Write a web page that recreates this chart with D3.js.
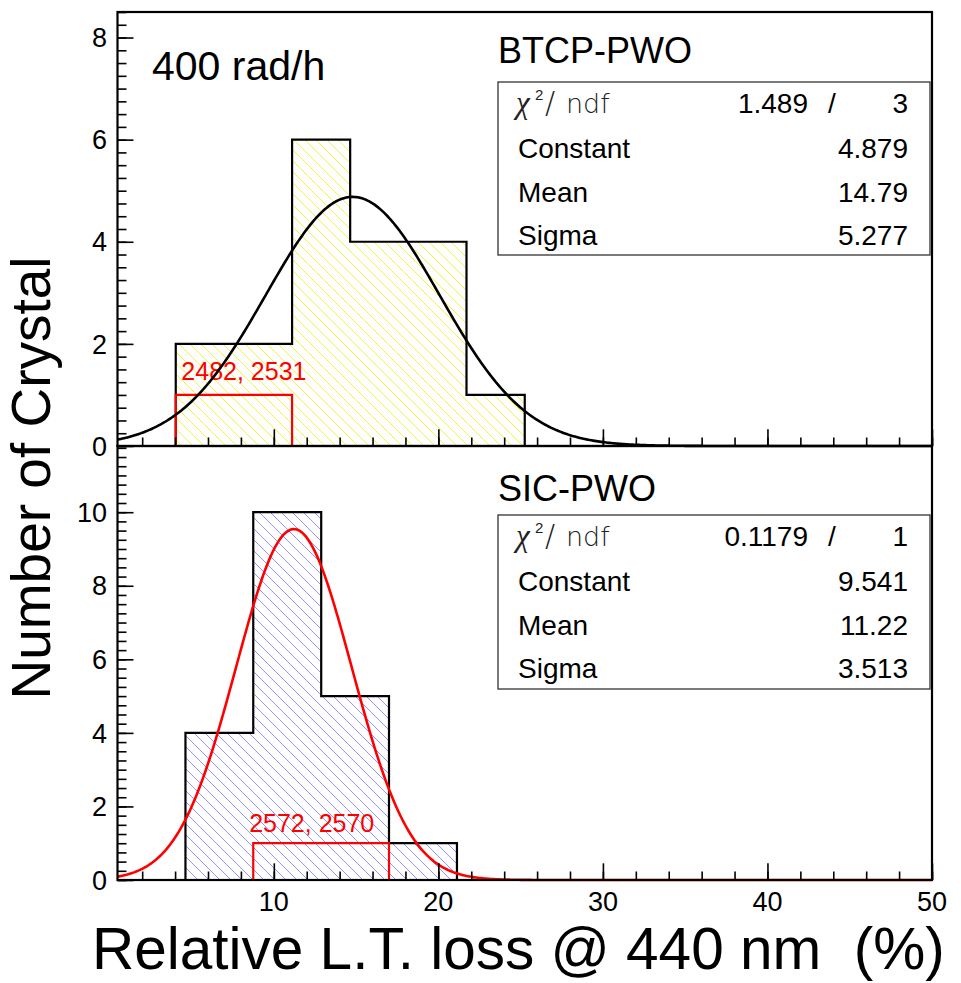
<!DOCTYPE html>
<html>
<head>
<meta charset="utf-8">
<script src="https://cdn.jsdelivr.net/npm/d3@7/dist/d3.min.js"></script>
<style>
  body { margin: 0; background: #fff; }
  svg { display: block; }
  text { font-family: "Liberation Sans", Arial, Helvetica, sans-serif; white-space: pre; }
</style>
</head>
<body>
<svg id="chart" width="961" height="983"></svg>
<script>
// ---------------- data ----------------
const xDomain = [0.5, 50];
const xMajorTicks = [10, 20, 30, 40, 50];

// top panel: BTCP-PWO
const topTitle = "BTCP-PWO";
const topBinEdges = [4.04, 7.57, 11.11, 14.64, 18.18, 21.71, 25.25];
const topCounts = [2, 2, 6, 4, 4, 1];
const topRedEdges = [4.04, 7.57, 11.11];
const topRedCounts = [1, 1];
const topRedLabel = "2482, 2531";
const topFit = [4.879, 14.79, 5.277]; // constant, mean, sigma
const topStats = ["1.489", "3", "4.879", "14.79", "5.277"];
const topYDomain = [0, 8.5];
const topYTicks = [0, 2, 4, 6, 8];

// bottom panel: SIC-PWO
const botTitle = "SIC-PWO";
const botBinEdges = [4.63, 8.75, 12.88, 17.0, 21.13];
const botCounts = [4, 10, 5, 1];
const botRedEdges = [8.75, 12.88, 17.0];
const botRedCounts = [1, 1];
const botRedLabel = "2572, 2570";
const botFit = [9.541, 11.22, 3.513];
const botStats = ["0.1179", "1", "9.541", "11.22", "3.513"];
const botYDomain = [0, 11.8];
const botYTicks = [0, 2, 4, 6, 8, 10];

const doseLabel = "400 rad/h";
const yTitle = "Number of Crystal";
const xTitle = "Relative L.T. loss @ 440 nm  (%)";
const statNames = ["Constant", "Mean", "Sigma"];

// ---------------- layout ----------------
const svg = d3.select("#chart");
const L = 117.5, R = 932;
const topY0 = 446, topY1 = 12;
const botY0 = 880, botY1 = 446;

const x = d3.scaleLinear().domain(xDomain).range([L, R]);
const yTop = d3.scaleLinear().domain(topYDomain).range([topY0, topY1]);
const yBot = d3.scaleLinear().domain(botYDomain).range([botY0, botY1]);

// hatch patterns
const defs = svg.append("defs");
function hatch(id, color, width, opacity) {
  const s = 11;
  const p = defs.append("pattern").attr("id", id)
    .attr("patternUnits", "userSpaceOnUse").attr("width", s).attr("height", s);
  p.append("path").attr("d", `M${-s/2},${s/2} L${s/2},${1.5*s} M0,0 L${s},${s} M${s/2},${-s/2} L${1.5*s},${s/2}`)
    .attr("stroke", color).attr("stroke-width", width).attr("stroke-opacity", opacity).attr("fill", "none");
}
hatch("hatchYellow", "#f2f200", 0.9, 0.85);
hatch("hatchBlue", "#2020ff", 0.8, 0.6);

function histPoints(edges, counts) {
  const pts = [[edges[0], 0]];
  counts.forEach((c, i) => { pts.push([edges[i], c]); pts.push([edges[i + 1], c]); });
  pts.push([edges[edges.length - 1], 0]);
  return pts;
}

function gaussPoints(fit) {
  const [c, m, s] = fit;
  return d3.range(xDomain[0], xDomain[1] + 0.001, 0.1).map(v => [v, c * Math.exp(-0.5 * ((v - m) / s) ** 2)]);
}

function drawPanel(opt) {
  const { y, y0, y1, edges, counts, redEdges, redCounts, fill, fit, fitColor, redLabel, labelPos } = opt;
  const g = svg.append("g");
  const line = d3.line().x(d => x(d[0])).y(d => y(d[1]));
  const hp = histPoints(edges, counts);
  g.append("path").attr("d", line(hp) + "Z").attr("fill", `url(#${fill})`).attr("stroke", "none");
  g.append("path").attr("d", line(hp)).attr("fill", "none").attr("stroke", "#000").attr("stroke-width", 2.2);
  g.append("path").attr("d", line(histPoints(redEdges, redCounts))).attr("fill", "none")
    .attr("stroke", "#ff0000").attr("stroke-width", 2.2);
  g.append("text").attr("x", x(labelPos[0])).attr("y", y(labelPos[1]))
    .attr("fill", "#ff0000").attr("font-size", 25).text(redLabel);
  g.append("path").attr("d", line(gaussPoints(fit))).attr("fill", "none")
    .attr("stroke", fitColor).attr("stroke-width", 2.6);

  // y ticks
  const yMinor = d3.range(y.domain()[0], y.domain()[1] + 1e-9, 0.25);
  g.append("g").attr("transform", `translate(${L},0)`)
    .call(d3.axisRight(y).tickValues(yMinor).tickSize(9).tickFormat(""))
    .call(a => a.select(".domain").remove())
    .selectAll("line").attr("stroke", "#000").attr("stroke-width", 1.6);
  g.append("g").attr("transform", `translate(${L},0)`)
    .call(d3.axisRight(y).tickValues(opt.yTicks).tickSize(16).tickFormat(""))
    .call(a => a.select(".domain").remove())
    .selectAll("line").attr("stroke", "#000").attr("stroke-width", 1.6);
  g.selectAll(".ylab").data(opt.yTicks).enter().append("text")
    .attr("x", 107).attr("y", d => y(d)).attr("dy", "0.36em")
    .attr("text-anchor", "end").attr("font-size", 27).text(d => d);

  // x ticks
  const xMinor = d3.range(2, 50.001, 2);
  g.append("g").attr("transform", `translate(0,${y0})`)
    .call(d3.axisTop(x).tickValues(xMinor).tickSize(8.5).tickFormat(""))
    .call(a => a.select(".domain").remove())
    .selectAll("line").attr("stroke", "#000").attr("stroke-width", 1.6);
  g.append("g").attr("transform", `translate(0,${y0})`)
    .call(d3.axisTop(x).tickValues(xMajorTicks).tickSize(16.7).tickFormat(""))
    .call(a => a.select(".domain").remove())
    .selectAll("line").attr("stroke", "#000").attr("stroke-width", 1.6);

  // frame
  g.append("rect").attr("x", L).attr("y", y1).attr("width", R - L).attr("height", y0 - y1)
    .attr("fill", "none").attr("stroke", "#000").attr("stroke-width", 2.2);
  return g;
}

drawPanel({ y: yTop, y0: topY0, y1: topY1, edges: topBinEdges, counts: topCounts,
  redEdges: topRedEdges, redCounts: topRedCounts, fill: "hatchYellow", fit: topFit, fitColor: "#000",
  redLabel: topRedLabel, labelPos: [4.38, 1.29], yTicks: topYTicks });
drawPanel({ y: yBot, y0: botY0, y1: botY1, edges: botBinEdges, counts: botCounts,
  redEdges: botRedEdges, redCounts: botRedCounts, fill: "hatchBlue", fit: botFit, fitColor: "#ff0000",
  redLabel: botRedLabel, labelPos: [8.5, 1.31], yTicks: botYTicks });

// x tick labels
svg.selectAll(".xlab").data(xMajorTicks).enter().append("text")
  .attr("x", d => x(d)).attr("y", 911).attr("text-anchor", "middle").attr("font-size", 27).text(d => d);

// titles
svg.append("text").attr("x", 152).attr("y", 80).attr("font-size", 41).text(doseLabel);
svg.append("text").attr("x", 498).attr("y", 63).attr("font-size", 36).text(topTitle);
svg.append("text").attr("x", 498).attr("y", 501).attr("font-size", 36).text(botTitle);

svg.append("text").attr("transform", "translate(50,478) rotate(-90)")
  .attr("text-anchor", "middle").attr("font-size", 55).text(yTitle);
svg.append("text").attr("x", 92).attr("y", 969).attr("font-size", 58.5).attr("xml:space", "preserve").text(xTitle);

// stat boxes
function statBox(top, h, stats) {
  const g = svg.append("g");
  g.append("rect").attr("x", 498).attr("y", top).attr("width", 432).attr("height", h)
    .attr("fill", "#fff").attr("stroke", "#333").attr("stroke-width", 1.3);
  const rows = [top + 31, top + 76, top + 119.5, top + 163];
  const t = g.append("text").attr("y", rows[0]).attr("fill", "#222");
  t.append("tspan").attr("x", 516).attr("font-family", "'Liberation Serif', 'Times New Roman', serif")
    .attr("font-style", "italic").attr("font-size", 31).text("χ");
  t.append("tspan").attr("x", 535).attr("dy", -13).attr("font-size", 15).text("2");
  t.append("tspan").attr("x", 545).attr("dy", 13).attr("font-size", 30).attr("font-family", "'DejaVu Sans', sans-serif")
    .attr("font-weight", 200).text("/");
  t.append("tspan").attr("x", 566).attr("font-size", 27).attr("font-family", "'DejaVu Sans', sans-serif")
    .attr("font-weight", 200).text("ndf");
  g.append("text").attr("x", 808).attr("y", rows[0]).attr("text-anchor", "end").attr("font-size", 28).text(stats[0]);
  g.append("text").attr("x", 832).attr("y", rows[0]).attr("text-anchor", "middle").attr("font-size", 28).text("/");
  g.append("text").attr("x", 908).attr("y", rows[0]).attr("text-anchor", "end").attr("font-size", 28).text(stats[1]);
  statNames.forEach((n, i) => {
    g.append("text").attr("x", 518).attr("y", rows[i + 1]).attr("font-size", 28).text(n);
    g.append("text").attr("x", 908).attr("y", rows[i + 1]).attr("text-anchor", "end").attr("font-size", 28).text(stats[i + 2]);
  });
}
statBox(82, 173, topStats);
statBox(515, 174, botStats);
</script>
</body>
</html>
